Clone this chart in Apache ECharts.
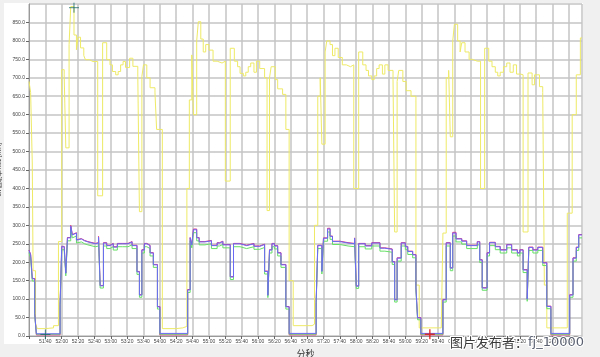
<!DOCTYPE html>
<html><head><meta charset="utf-8">
<script src="https://cdn.jsdelivr.net/npm/echarts@6/dist/echarts.min.js"></script>
<style>html,body{margin:0;padding:0;background:#f0f0f0}#c{width:600px;height:357px}</style>
</head><body><div id="c"></div>
<script>
const xMin = 3080, xMax = 3756, xStep = 20;
const yMin = 0, yMax = 900, yStep = 50;

const yellowTimes = [3080,3082,3084,3085,3088,3090,3100,3110,3116,
3120,3123,3125,3129,3131,3135,3138,3140,3143,3147,3149,3154,3158,3160,3164,3170,3175,3179,3182,3186,3189,3192,3195,3198,3203,3207,3213,3215,3218,3220,3224,3228,3234,3236,3243,3260,3268,3273,
3276,3279,3281,3285,3287,3290,3293,3296,3300,3305,3310,3316,3320,3326,3331,3335,3338,3342,3345,3348,3351,3355,3358,3362,3368,3371,3374,3376,3381,3384,3390,3394,3398,3403,3415,3426,3429,
3433,3436,3438,3442,3444,3448,3451,3454,3458,3463,3468,3473,3477,3483,3488,3492,3495,3499,3502,3505,3508,3512,3515,3519,3525,3527,3530,3532,3537,3541,3547,3553,3557,3575,3584,3586,
3590,3593,3595,3598,3600,3604,3607,3609,3613,3618,3622,3628,3632,3637,3642,3646,3650,3653,3656,3660,3664,3668,3672,3676,3681,3684,3690,3695,3698,3704,3708,3710,3713,3730,3738,3744,3749,3754,3756];
const yellowValues = [690,660,469,177,35,20,22,28,256,
722,708,510,790,893,816,776,810,781,760,749,744,749,744,380,795,749,735,717,708,717,735,744,728,753,731,704,337,704,735,700,673,659,560,20,22,26,400,
640,762,600,800,852,805,770,790,775,745,740,745,420,780,745,730,712,705,715,730,740,715,745,725,700,340,700,730,695,670,655,560,150,28,28,32,300,
650,700,520,770,800,790,760,780,755,735,730,735,400,770,735,720,705,695,705,725,735,710,735,720,695,282,690,720,690,665,650,138,22,22,25,279,
700,720,540,800,845,800,770,795,770,750,745,745,400,780,745,730,715,705,715,730,740,715,735,710,708,282,713,681,708,676,660,138,22,22,333,600,708,808,808];

const blueTimes = [3080,3082,3084,3087,3089,
3118,3120,3123,3125,3127,3131,3133,3135,3138,3140,3144,3148,3152,3161,3165,3167,3171,3175,3179,3183,3188,3194,3201,3206,3212,3215,3218,3221,3224,3228,3232,3237,3240,
3274,3277,3279,3281,3285,3288,3295,3303,3310,3313,3317,3326,3330,3338,3346,3355,3362,3368,3372,3374,3377,3380,3384,3388,3394,3398,
3431,3433,3438,3440,3445,3448,3451,3460,3470,3478,3480,3483,3491,3499,3509,3515,3524,3527,3530,3535,3540,3543,3549,3553,3555,3559,
3586,3590,3595,3598,3602,3609,3615,3628,3631,3634,3640,3643,3650,3656,3664,3670,3677,3680,3684,3689,3691,3696,3702,3708,3713,3718,
3741,3745,3749,3752,3756];
const blueValues = [232,220,155,60,6,
84,242,238,170,266,298,274,279,260,263,258,255,250,252,268,136,252,245,250,241,250,250,255,245,174,111,233,250,245,225,193,79,7,
125,266,247,288,266,255,258,245,252,256,247,160,250,245,250,243,248,175,110,233,250,244,225,193,79,7,
90,245,175,265,290,270,256,252,250,265,135,250,244,252,238,235,201,98,211,252,242,229,220,130,49,7,
98,252,184,279,263,257,245,255,206,130,225,253,242,233,247,233,225,233,179,100,240,233,240,198,80,7,
111,211,240,274,274];
const greenValues = [226,213,149,55,5,
78,234,230,163,258,290,266,271,252,255,250,247,242,244,260,130,244,237,242,233,242,242,247,237,167,105,225,242,237,217,186,73,5,
118,258,239,280,258,247,250,237,244,248,239,153,242,237,242,235,240,168,104,225,242,236,217,186,73,5,
84,237,168,257,282,262,248,244,242,257,129,242,236,244,230,227,194,92,203,244,234,221,212,124,44,5,
92,244,177,271,255,249,237,247,199,124,217,245,234,225,239,225,217,225,172,94,232,225,232,191,74,5,
105,203,232,266,266];
const redValues = [233,221,156,61,3,
85,243,239,171,267,300,275,280,261,264,259,256,251,253,270,137,253,246,251,242,251,251,256,246,175,112,234,251,246,226,194,80,3,
126,267,248,290,267,256,259,246,253,257,248,161,251,246,251,244,249,176,111,234,251,245,226,194,80,3,
91,246,176,266,292,271,257,253,251,266,136,251,245,253,239,236,202,99,212,253,243,230,221,131,50,3,
99,253,185,281,264,258,246,256,207,131,226,254,243,234,248,234,226,234,180,101,241,234,241,199,81,3,
112,212,241,275,275];

const maxMark = [3135, 890];
const minMarkA = [3100, 4];
const minMarkB = [3570, 5];

const yTitle = 'Ch 总功率 h01 [kVA]';
const xTitle = '分秒';
const watermark = '图片发布者：';
const watermarkId = 'fj_10000';

function zip(t, v) { return t.map((x, i) => [x, v[i]]); }
function fmtTime(v) {
  if (v % 20 !== 0 || v === xMin) return '';
  const m = Math.floor(v / 60) % 60, s = v % 60;
  return String(m).padStart(2, '0') + ':' + String(s).padStart(2, '0');
}
const cross = 'path://M0,5L10,5M5,0L5,10';
function lineSeries(name, data, color, w) {
  return { name, type: 'line', step: 'end', data, showSymbol: false, silent: true,
    lineStyle: { color, width: w }, animation: false };
}

const chart = echarts.init(document.getElementById('c'), null, { renderer: 'canvas' });
chart.setOption({
  backgroundColor: '#f0f0f0',
  animation: false,
  graphic: [
    { type: 'rect', z: -10, shape: { x: 4, y: 3, width: 579, height: 341 }, style: { fill: '#ffffff' } },
    { type: 'text', z: 100, left: 449, top: 335,
      style: { rich: { a: { fontSize: 13, fill: '#3a3a3a', fontFamily: 'Noto Sans CJK SC' },
                       b: { fontSize: 13, fill: '#5a6070', fontFamily: 'DejaVu Sans' } },
               text: '{a|' + watermark + '}{b|' + watermarkId + '}', stroke: '#ffffff', lineWidth: 2 } }
  ],
  grid: { left: 29, right: 18, top: 4, bottom: 21, show: true, backgroundColor: '#ffffff', borderWidth: 0,
          containLabel: false, outerBoundsMode: 'none' },
  xAxis: {
    type: 'value', min: xMin, max: xMax, interval: xStep,
    name: xTitle, nameLocation: 'middle', nameGap: 13,
    nameTextStyle: { fontSize: 9, color: '#333', fontFamily: 'Noto Sans CJK SC' },
    axisLine: { show: true, lineStyle: { color: '#999', width: 1 } },
    axisTick: { show: true, length: 3, lineStyle: { color: '#666' } },
    axisLabel: { fontSize: 5, color: '#444', margin: 3, fontFamily: 'Liberation Sans',
                 formatter: fmtTime, hideOverlap: false, showMaxLabel: false },
    splitLine: { show: true, lineStyle: { color: '#c4c4c4', width: 1.5 } }
  },
  yAxis: {
    type: 'value', min: yMin, max: yMax, interval: yStep,
    name: yTitle, nameLocation: 'middle', nameGap: 20,
    nameTextStyle: { fontSize: 6, color: '#333', fontFamily: 'Noto Sans CJK SC' },
    axisLine: { show: true, lineStyle: { color: '#999', width: 1 } },
    axisTick: { show: true, length: 3, lineStyle: { color: '#666' } },
    axisLabel: { fontSize: 5, color: '#444', margin: 4, showMaxLabel: false, fontFamily: 'Liberation Sans',
      formatter: v => v >= yMax ? '' : v.toFixed(1) },
    splitLine: { show: true, lineStyle: { color: '#c4c4c4', width: 1.5 } }
  },
  series: [
    lineSeries('yellow', zip(yellowTimes, yellowValues), '#eeea66', 1),
    lineSeries('red', zip(blueTimes, redValues), '#e0307a', 1),
    lineSeries('green', zip(blueTimes, greenValues), '#66e066', 1),
    lineSeries('blue', zip(blueTimes, blueValues), '#6a6af4', 1),
    { type: 'scatter', silent: true, animation: false, symbol: cross, symbolSize: 10, z: 10,
      data: [maxMark, minMarkA], itemStyle: { color: 'rgba(0,0,0,0)', borderColor: '#1a6a6a', borderWidth: 1 } },
    { type: 'scatter', silent: true, animation: false, symbol: cross, symbolSize: 10, z: 10,
      data: [minMarkB], itemStyle: { color: 'rgba(0,0,0,0)', borderColor: '#e01010', borderWidth: 1.5 } }
  ]
});
</script></body></html>
